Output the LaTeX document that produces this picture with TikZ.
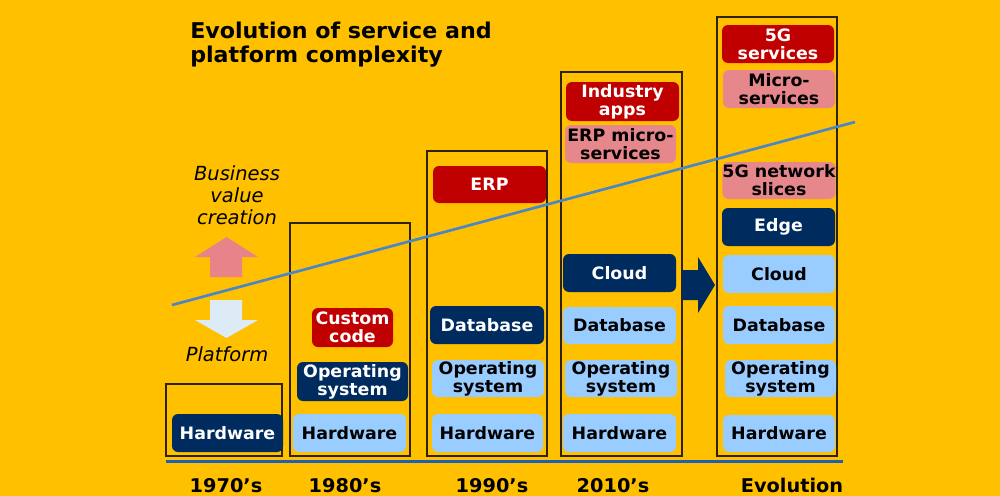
\documentclass[tikz,border=0pt]{standalone}
\usepackage{fontspec}
\setmainfont{DejaVu Sans}
\newfontfamily\vb{DejaVu Sans Bold}[FakeStretch=1.02]
\newfontfamily\vi{DejaVu Sans Oblique}
\definecolor{bgc}{HTML}{FFC000}
\definecolor{navyc}{HTML}{002B5E}
\definecolor{redc}{HTML}{C00000}
\definecolor{lightc}{HTML}{99CCFF}
\definecolor{pinkc}{HTML}{E6878C}
\definecolor{framec}{HTML}{2E2200}
\definecolor{diagc}{HTML}{4A86C8}
\definecolor{basec}{HTML}{2060B0}
\definecolor{uparrowc}{HTML}{E8838A}
\definecolor{downarrowc}{HTML}{DDEBF7}
\newcommand\mkbox[7]{\node[#6, minimum width={(#4-#2)*0.75pt}, minimum height={(#5-#3)*0.75pt}] (#1) at ({(#2+#4)/2},{(#3+#5)/2}) {#7};}
\begin{document}
\begin{tikzpicture}[x=0.75pt,y=-0.75pt,
  blk/.style={rounded corners=4.5pt, inner sep=0pt, align=center, font=\vb\fontsize{12.8}{13.6}\selectfont},
  navybox/.style={blk, fill=navyc, text=white},
  redbox/.style={blk, fill=redc, text=white},
  lightbox/.style={blk, fill=lightc, text=black},
  pinkbox/.style={blk, fill=pinkc, text=black},
  frame/.style={draw=framec, line width=0.8pt, inner sep=0pt},
  yearlbl/.style={font=\vb\fontsize{14.2}{15}\selectfont, anchor=base, inner sep=0pt},
  titlelbl/.style={font=\vb\fontsize{16.3}{17}\selectfont, anchor=base west, inner sep=0pt},
  sidelbl/.style={font=\vi\fontsize{14.6}{16.5}\selectfont, align=center, inner sep=0pt}
]
\fill[bgc] (0,0) rectangle (1000,496);
\useasboundingbox (0,0) rectangle (1000,496);

% frames
\mkbox{f70}{166}{384}{282}{456}{frame}{}
\mkbox{f80}{290}{223}{410}{456}{frame}{}
\mkbox{f90}{427}{151}{547}{456}{frame}{}
\mkbox{f10}{561}{72}{682}{456}{frame}{}
\mkbox{fev}{717}{17}{837}{456}{frame}{}

% 1970s
\mkbox{hw70}{172}{414}{283}{452}{navybox}{Hardware}
% 1980s
\mkbox{hw80}{293}{414}{406}{452}{lightbox}{Hardware}
\mkbox{os80}{297}{362}{408}{401}{navybox}{Operating\\system}
\mkbox{cc80}{312}{308}{393}{347}{redbox}{Custom\\code}
% 1990s
\mkbox{hw90}{432}{414}{543}{452}{lightbox}{Hardware}
\mkbox{os90}{432}{360}{544}{397}{lightbox}{Operating\\system}
\mkbox{db90}{430}{306}{544}{344}{navybox}{Database}
\mkbox{erp90}{433}{166}{546}{203}{redbox}{ERP}
% 2010s
\mkbox{hw10}{563}{414}{676}{452}{lightbox}{Hardware}
\mkbox{os10}{565}{360}{677}{397}{lightbox}{Operating\\system}
\mkbox{db10}{563}{307}{676}{344}{lightbox}{Database}
\mkbox{cl10}{563}{254}{676}{292}{navybox}{Cloud}
\mkbox{em10}{565}{125}{676}{163}{pinkbox}{ERP micro-\\services}
\mkbox{ia10}{566}{82}{679}{121}{redbox}{Industry\\apps}
% Evolution
\mkbox{hwev}{723}{415}{835}{452}{lightbox}{Hardware}
\mkbox{osev}{725}{360}{836}{397}{lightbox}{Operating\\system}
\mkbox{dbev}{723}{306}{835}{344}{lightbox}{Database}
\mkbox{clev}{723}{255}{835}{293}{lightbox}{Cloud}
\mkbox{edev}{722}{208}{835}{246}{navybox}{Edge}
\mkbox{nsev}{723}{162}{835}{199}{pinkbox}{5G network\\slices}
\mkbox{msev}{723}{70}{835}{108}{pinkbox}{Micro-\\services}
\mkbox{sgev}{722}{25}{834}{63}{redbox}{5G\\services}

% diagonal value line
\coordinate (dl1) at (172,305);
\coordinate (dl2) at (855,122);
\draw[diagc, line width=2pt] (dl1) -- (dl2);

% base line
\coordinate (bl1) at (166,461.5);
\coordinate (bl2) at (843,461.5);
\draw[basec, line width=2.6pt] (bl1) -- (bl2);

% big navy arrow
\fill[navyc] (682,270) -- (698,270) -- (698,257) -- (715,285) -- (698,313) -- (698,300) -- (682,300) -- cycle;

% up / down arrows
\fill[uparrowc] (210,277) -- (210,257) -- (195,257) -- (226.5,237) -- (258,257) -- (242,257) -- (242,277) -- cycle;
\fill[downarrowc] (210,300) -- (242,300) -- (242,320) -- (258,320) -- (226.5,338) -- (195,320) -- (210,320) -- cycle;

% title
\node[titlelbl] (t1) at (190,38) {Evolution of service and};
\node[titlelbl] (t2) at (190,62) {platform complexity};

% side labels
\node[sidelbl] (bvc) at (237,195) {Business\\value\\creation};
\node[sidelbl] (plat) at (227,354) {Platform};

% years
\node[yearlbl] (y70) at (226,492) {1970’s};
\node[yearlbl] (y80) at (345,492) {1980’s};
\node[yearlbl] (y90) at (492,492) {1990’s};
\node[yearlbl] (y10) at (613,492) {2010’s};
\node[yearlbl] (yev) at (792,492) {Evolution};
\end{tikzpicture}
\end{document}
